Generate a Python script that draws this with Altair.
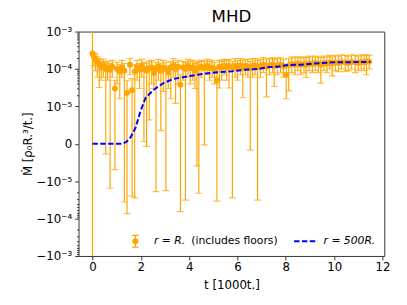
import math
import altair as alt
import pandas as pd

# ---------------- data ----------------
pt_t = [0.00, 0.06, 0.12, 0.20, 0.28, 0.36, 0.45, 0.55, 0.63, 0.73, 0.82, 0.93, 1.02, 1.13, 1.22, 1.32,
        1.43, 1.55, 1.64, 1.75, 1.85, 1.95, 2.04, 2.13, 2.24, 2.35, 2.45, 2.54, 2.63, 2.73, 2.83, 2.93,
        3.04, 3.14, 3.24, 3.34, 3.44, 3.54, 3.64, 3.75, 3.85, 3.95, 4.05, 4.15, 4.24, 4.32, 4.40, 4.50,
        4.63, 4.75, 4.85, 4.95, 5.05, 5.15, 5.25, 5.35, 5.45, 5.55, 5.65, 5.79, 5.90, 6.00, 6.12, 6.22,
        6.33, 6.43, 6.53, 6.63, 6.73, 6.83, 6.95, 7.07, 7.20, 7.32, 7.45, 7.52, 7.65, 7.78, 7.90, 8.02,
        8.12, 8.25, 8.38, 8.50, 8.62, 8.75, 8.84, 8.97, 9.10, 9.22, 9.35, 9.45, 9.58, 9.70, 9.82, 9.92,
        10.05, 10.18, 10.30, 10.46, 10.58, 10.72, 10.87, 11.00, 11.12, 11.24, 11.34, 11.45]
pt_m = [2.6e-4, 2.2e-4, 1.9e-4, 1.6e-4, 1.35e-4, 1.1e-4, 1.25e-4, 1.0e-4, 1.1e-4, 9.5e-5, 1.15e-4, 3.0e-5,
        1.0e-4, 8.5e-5, 1.1e-4, 9.0e-5, 2.3e-5, 1.3e-4, 2.7e-5, 8.5e-5, 1.1e-4, 9.5e-5, 1.2e-4, 1.0e-4,
        9.0e-5, 1.05e-4, 1.1e-4, 7.8e-5, 1.0e-4, 1.15e-4, 9.0e-5, 1.1e-4, 1.0e-4, 8.0e-5, 1.1e-4, 1.2e-4,
        1.0e-4, 1.15e-4, 3.8e-5, 1.1e-4, 1.0e-4, 1.2e-4, 1.05e-4, 1.1e-4, 9.0e-5, 1.0e-4, 1.1e-4, 1.15e-4,
        1.05e-4, 1.2e-4, 1.05e-4, 1.1e-4, 1.0e-4, 5.0e-5, 1.15e-4, 1.1e-4, 1.2e-4, 1.1e-4, 1.2e-4, 1.1e-4,
        1.2e-4, 1.1e-4, 1.25e-4, 1.1e-4, 1.2e-4, 1.15e-4, 1.05e-4, 1.2e-4, 1.25e-4, 1.1e-4, 1.2e-4, 1.3e-4,
        1.15e-4, 1.25e-4, 1.3e-4, 1.2e-4, 1.25e-4, 1.3e-4, 1.2e-4, 7.0e-5, 1.25e-4, 1.35e-4, 1.3e-4, 1.4e-4,
        1.3e-4, 1.35e-4, 1.3e-4, 1.4e-4, 1.35e-4, 1.45e-4, 1.4e-4, 1.3e-4, 1.45e-4, 1.4e-4, 1.5e-4, 1.4e-4,
        1.5e-4, 1.45e-4, 1.55e-4, 1.5e-4, 1.45e-4, 1.55e-4, 1.5e-4, 1.45e-4, 1.55e-4, 1.5e-4, 1.6e-4, 1.55e-4]
err_lo = [-5e-3, 1.2e-4, 9e-5, 6e-5, 3.2e-5, 5e-5, 6e-5, -2.7e-6, 5e-5, -1.55e-5, 6e-5, -6.9e-6,
          4e-5, 1.6e-5, 6e-5, -3.6e-5, -7.4e-5, 7e-5, -2.5e-5, -2.8e-5, 5e-5, 3e-5, 6e-5, 6e-7,
          -7e-7, 6.4e-6, 4e-5, 3e-5, -1.9e-5, 5e-5, 3.5e-6, 2.5e-5, -1.8e-5, 3e-5, 1.6e-5, 6e-5,
          1.2e-5, 4e-5, -6.5e-5, 5e-5, -3.2e-5, 6e-5, 4e-5, 5e-5, 3e-5, -5.9e-6, -2.1e-5, 6e-5,
          -3e-7, 7e-5, 5e-5, 6e-5, 4e-5, -3.4e-5, 3.1e-5, 5e-5, 7e-5, 5e-5, 3.1e-5, -2.8e-5,
          6e-5, 5e-5, 7e-5, 1.7e-5, 7e-5, 6e-5, -1.7e-6, 6e-5, 7e-5, -3.2e-5, 6e-5, 8e-5,
          1.8e-5, 7e-5, 8e-5, 3.4e-5, 7e-5, 8e-5, 6e-5, 1.6e-5, 2.6e-5, 8e-5, 7e-5, 9e-5,
          7e-5, 8e-5, 5.9e-5, 9e-5, 8e-5, 9e-5, 8e-5, 4.2e-5, 9e-5, 8e-5, 1e-4, 6.5e-5,
          9e-5, 8.5e-5, 1e-4, 8.5e-5, 9e-5, 1e-4, 8e-5, 9e-5, 1e-4, 9e-5, 7e-5, 1e-4]
err_hi = [5e-3, 2.7e-4, 2.5e-4, 2.1e-4, 1.9e-4, 1.6e-4, 1.8e-4, 1.5e-4, 1.6e-4, 1.4e-4, 1.7e-4, 5e-5,
          1.5e-4, 1.3e-4, 1.7e-4, 1.4e-4, 5e-5, 1.9e-4, 5.5e-5, 1.3e-4, 1.7e-4, 1.4e-4, 1.8e-4, 1.5e-4,
          1.4e-4, 1.6e-4, 1.7e-4, 1.2e-4, 1.5e-4, 1.8e-4, 1.4e-4, 1.7e-4, 1.5e-4, 1.2e-4, 1.6e-4, 1.9e-4,
          1.5e-4, 1.7e-4, 7e-5, 1.6e-4, 1.5e-4, 1.8e-4, 1.6e-4, 1.7e-4, 1.4e-4, 1.5e-4, 1.6e-4, 1.7e-4,
          1.6e-4, 1.8e-4, 1.6e-4, 1.7e-4, 1.5e-4, 9e-5, 1.7e-4, 1.6e-4, 1.8e-4, 1.7e-4, 1.8e-4, 1.6e-4,
          1.9e-4, 1.7e-4, 1.9e-4, 1.7e-4, 1.8e-4, 1.8e-4, 1.6e-4, 1.9e-4, 1.9e-4, 1.7e-4, 1.8e-4, 2.0e-4,
          1.8e-4, 1.9e-4, 2.0e-4, 1.8e-4, 1.9e-4, 2.0e-4, 1.8e-4, 1.2e-4, 1.9e-4, 2.1e-4, 2.0e-4, 2.1e-4,
          2.0e-4, 2.1e-4, 2.0e-4, 2.2e-4, 2.1e-4, 2.2e-4, 2.1e-4, 2.0e-4, 2.2e-4, 2.1e-4, 2.3e-4, 2.1e-4,
          2.3e-4, 2.2e-4, 2.4e-4, 2.3e-4, 2.2e-4, 2.4e-4, 2.3e-4, 2.2e-4, 2.4e-4, 2.3e-4, 2.4e-4, 2.3e-4]

line_t = [0.0, 0.5, 1.0, 1.25, 1.4, 1.59, 1.79, 1.99, 2.2, 2.54, 2.94, 3.35, 4.02, 4.7, 5.2, 5.79,
          6.3, 6.86, 7.28, 7.67, 8.09, 8.63, 9.17, 9.92, 10.67, 11.5]
line_m = [0.0, 0.0, 0.0, 0.0, 5e-7, 1.8e-6, 4.4e-6, 8.8e-6, 1.7e-5, 2.8e-5, 4.2e-5, 5.4e-5, 6.5e-5,
          7.6e-5, 8.2e-5, 8.7e-5, 9.5e-5, 1.0e-4, 1.12e-4, 1.15e-4, 1.28e-4, 1.3e-4, 1.4e-4, 1.5e-4,
          1.52e-4, 1.55e-4]

y_tick_pos = [-3, -2, -1, 0, 1, 2, 3]
y_tick_text = ["−10⁻³", "−10⁻⁴", "−10⁻⁵", "0", "10⁻⁵", "10⁻⁴", "10⁻³"]
x_ticks = [0, 2, 4, 6, 8, 10, 12]
legend_labels = ["r = R.", "(includes floors)", "r = 500R."]

# ---------------- helpers ----------------
LIN = 1e-5  # symlog linear threshold (matplotlib style, linscale = 1)


def symlog(f):
    return (f"abs(datum.{f}) < {LIN} ? datum.{f} / {LIN} : "
            f"(datum.{f} > 0 ? 1 : -1) * (1 + log(abs(datum.{f}) / {LIN}) / LN10)")


label_expr = " : ".join(f"datum.value == {p} ? '{s}'" for p, s in zip(y_tick_pos, y_tick_text)) + " : ''"
minor_vals = []
for dec in (1, 2):
    for k in range(2, 10):
        v = dec + math.log10(k)
        minor_vals += [v, -v]

ORANGE = "#FFA500"
FONT = "DejaVu Sans"

pts = pd.DataFrame({"t": pt_t, "m": pt_m, "lo": err_lo, "hi": err_hi})
line = pd.DataFrame({"t": line_t, "m": line_m})

xs = alt.Scale(domain=[-0.575, 12.075], nice=False, zero=False)
ys = alt.Scale(domain=[-3, 3], nice=False, zero=False)

x_axis = alt.Axis(values=x_ticks, title="t [1000t.]", grid=False, domain=False, tickSize=4,
                  labelFontSize=12, titleFontSize=12, labelPadding=2, titlePadding=7,
                  titleFontWeight="normal", labelFlush=False, labelOverlap=False)
y_axis = alt.Axis(values=y_tick_pos, labelExpr=label_expr, title="Ṁ [ρ₀R.³/t.]", grid=False,
                  domain=False, tickSize=4, labelFontSize=12, titleFontSize=12, labelPadding=3,
                  titlePadding=2, titleFontWeight="normal", orient="left", labelFlush=False,
                  labelOverlap=False, labelBound=False)

base = alt.Chart(pts).transform_calculate(
    u=symlog("m"), ulo=symlog("lo"), uhi=symlog("hi"))

bars = base.mark_rule(color=ORANGE, strokeWidth=1.2, clip=True).encode(
    x=alt.X("t:Q", scale=xs, axis=x_axis),
    y=alt.Y("ulo:Q", scale=ys, axis=y_axis),
    y2="uhi:Q")
cap_lo = base.mark_tick(color=ORANGE, orient="horizontal", size=7, thickness=1.2, clip=True).encode(
    x=alt.X("t:Q", scale=xs, axis=x_axis), y=alt.Y("ulo:Q", scale=ys, axis=y_axis))
cap_hi = base.mark_tick(color=ORANGE, orient="horizontal", size=7, thickness=1.2, clip=True).encode(
    x=alt.X("t:Q", scale=xs, axis=x_axis), y=alt.Y("uhi:Q", scale=ys, axis=y_axis))
dots = base.mark_circle(color=ORANGE, size=36, opacity=1, clip=True).encode(
    x=alt.X("t:Q", scale=xs, axis=x_axis), y=alt.Y("u:Q", scale=ys, axis=y_axis))

curve = alt.Chart(line).transform_calculate(u=symlog("m")).mark_line(
    color="#0000FF", strokeWidth=2, strokeDash=[5.5, 2.5]).encode(
    x=alt.X("t:Q", scale=xs, axis=x_axis), y=alt.Y("u:Q", scale=ys, axis=y_axis))

# minor ticks of the symlog axis
minor = alt.Chart(pd.DataFrame({"v": minor_vals})).mark_point(opacity=0).encode(
    y=alt.Y("v:Q", scale=alt.Scale(domain=[-3, 3], nice=False, zero=False),
            axis=alt.Axis(values=minor_vals, labels=False, tickSize=2, domain=False, grid=False,
                          orient="left", title=None)))

# legend (inside the plot, bottom)
one = pd.DataFrame({"a": [0]})
lg_rule = alt.Chart(one).mark_rule(color=ORANGE, strokeWidth=1.2).encode(
    x=alt.value(58), y=alt.value(208), y2=alt.value(220))
lg_cap1 = alt.Chart(one).mark_rule(color=ORANGE, strokeWidth=1.2).encode(
    x=alt.value(54.5), x2=alt.value(61.5), y=alt.value(208))
lg_cap2 = alt.Chart(one).mark_rule(color=ORANGE, strokeWidth=1.2).encode(
    x=alt.value(54.5), x2=alt.value(61.5), y=alt.value(220))
lg_dot = alt.Chart(one).mark_circle(color=ORANGE, size=36, opacity=1).encode(
    x=alt.value(58), y=alt.value(214))
lg_t1 = alt.Chart(one).mark_text(text=legend_labels[0], font=FONT, fontSize=11, fontStyle="italic",
                                 align="left", baseline="middle").encode(x=alt.value(77), y=alt.value(214))
lg_t2 = alt.Chart(one).mark_text(text=legend_labels[1], font=FONT, fontSize=11,
                                 align="left", baseline="middle").encode(x=alt.value(115), y=alt.value(214))
lg_line = alt.Chart(one).mark_rule(color="#0000FF", strokeWidth=2, strokeDash=[5.5, 2.5]).encode(
    x=alt.value(220), x2=alt.value(243), y=alt.value(214))
lg_t3 = alt.Chart(one).mark_text(text=legend_labels[2], font=FONT, fontSize=11, fontStyle="italic",
                                 align="left", baseline="middle").encode(x=alt.value(250), y=alt.value(214))

main = alt.layer(bars, cap_lo, cap_hi, dots, curve, lg_rule, lg_cap1, lg_cap2, lg_dot,
                 lg_t1, lg_t2, lg_line, lg_t3)

chart = alt.layer(main, minor).resolve_scale(y="independent").properties(
    width=312, height=229,
    title=alt.Title("MHD", font=FONT, fontSize=17, fontWeight="normal", offset=0, anchor="middle"),
    autosize=alt.AutoSizeParams(type="none"),
    padding={"left": 72, "top": 21, "right": 15, "bottom": 47},
).configure_view(stroke="#333333", strokeWidth=1).configure_axis(
    labelFont=FONT, titleFont=FONT, labelColor="black", titleColor="black", tickColor="#333333",
    labelOverlap=False)

chart.save("out.html", embed_options={"renderer": "svg", "actions": False})
